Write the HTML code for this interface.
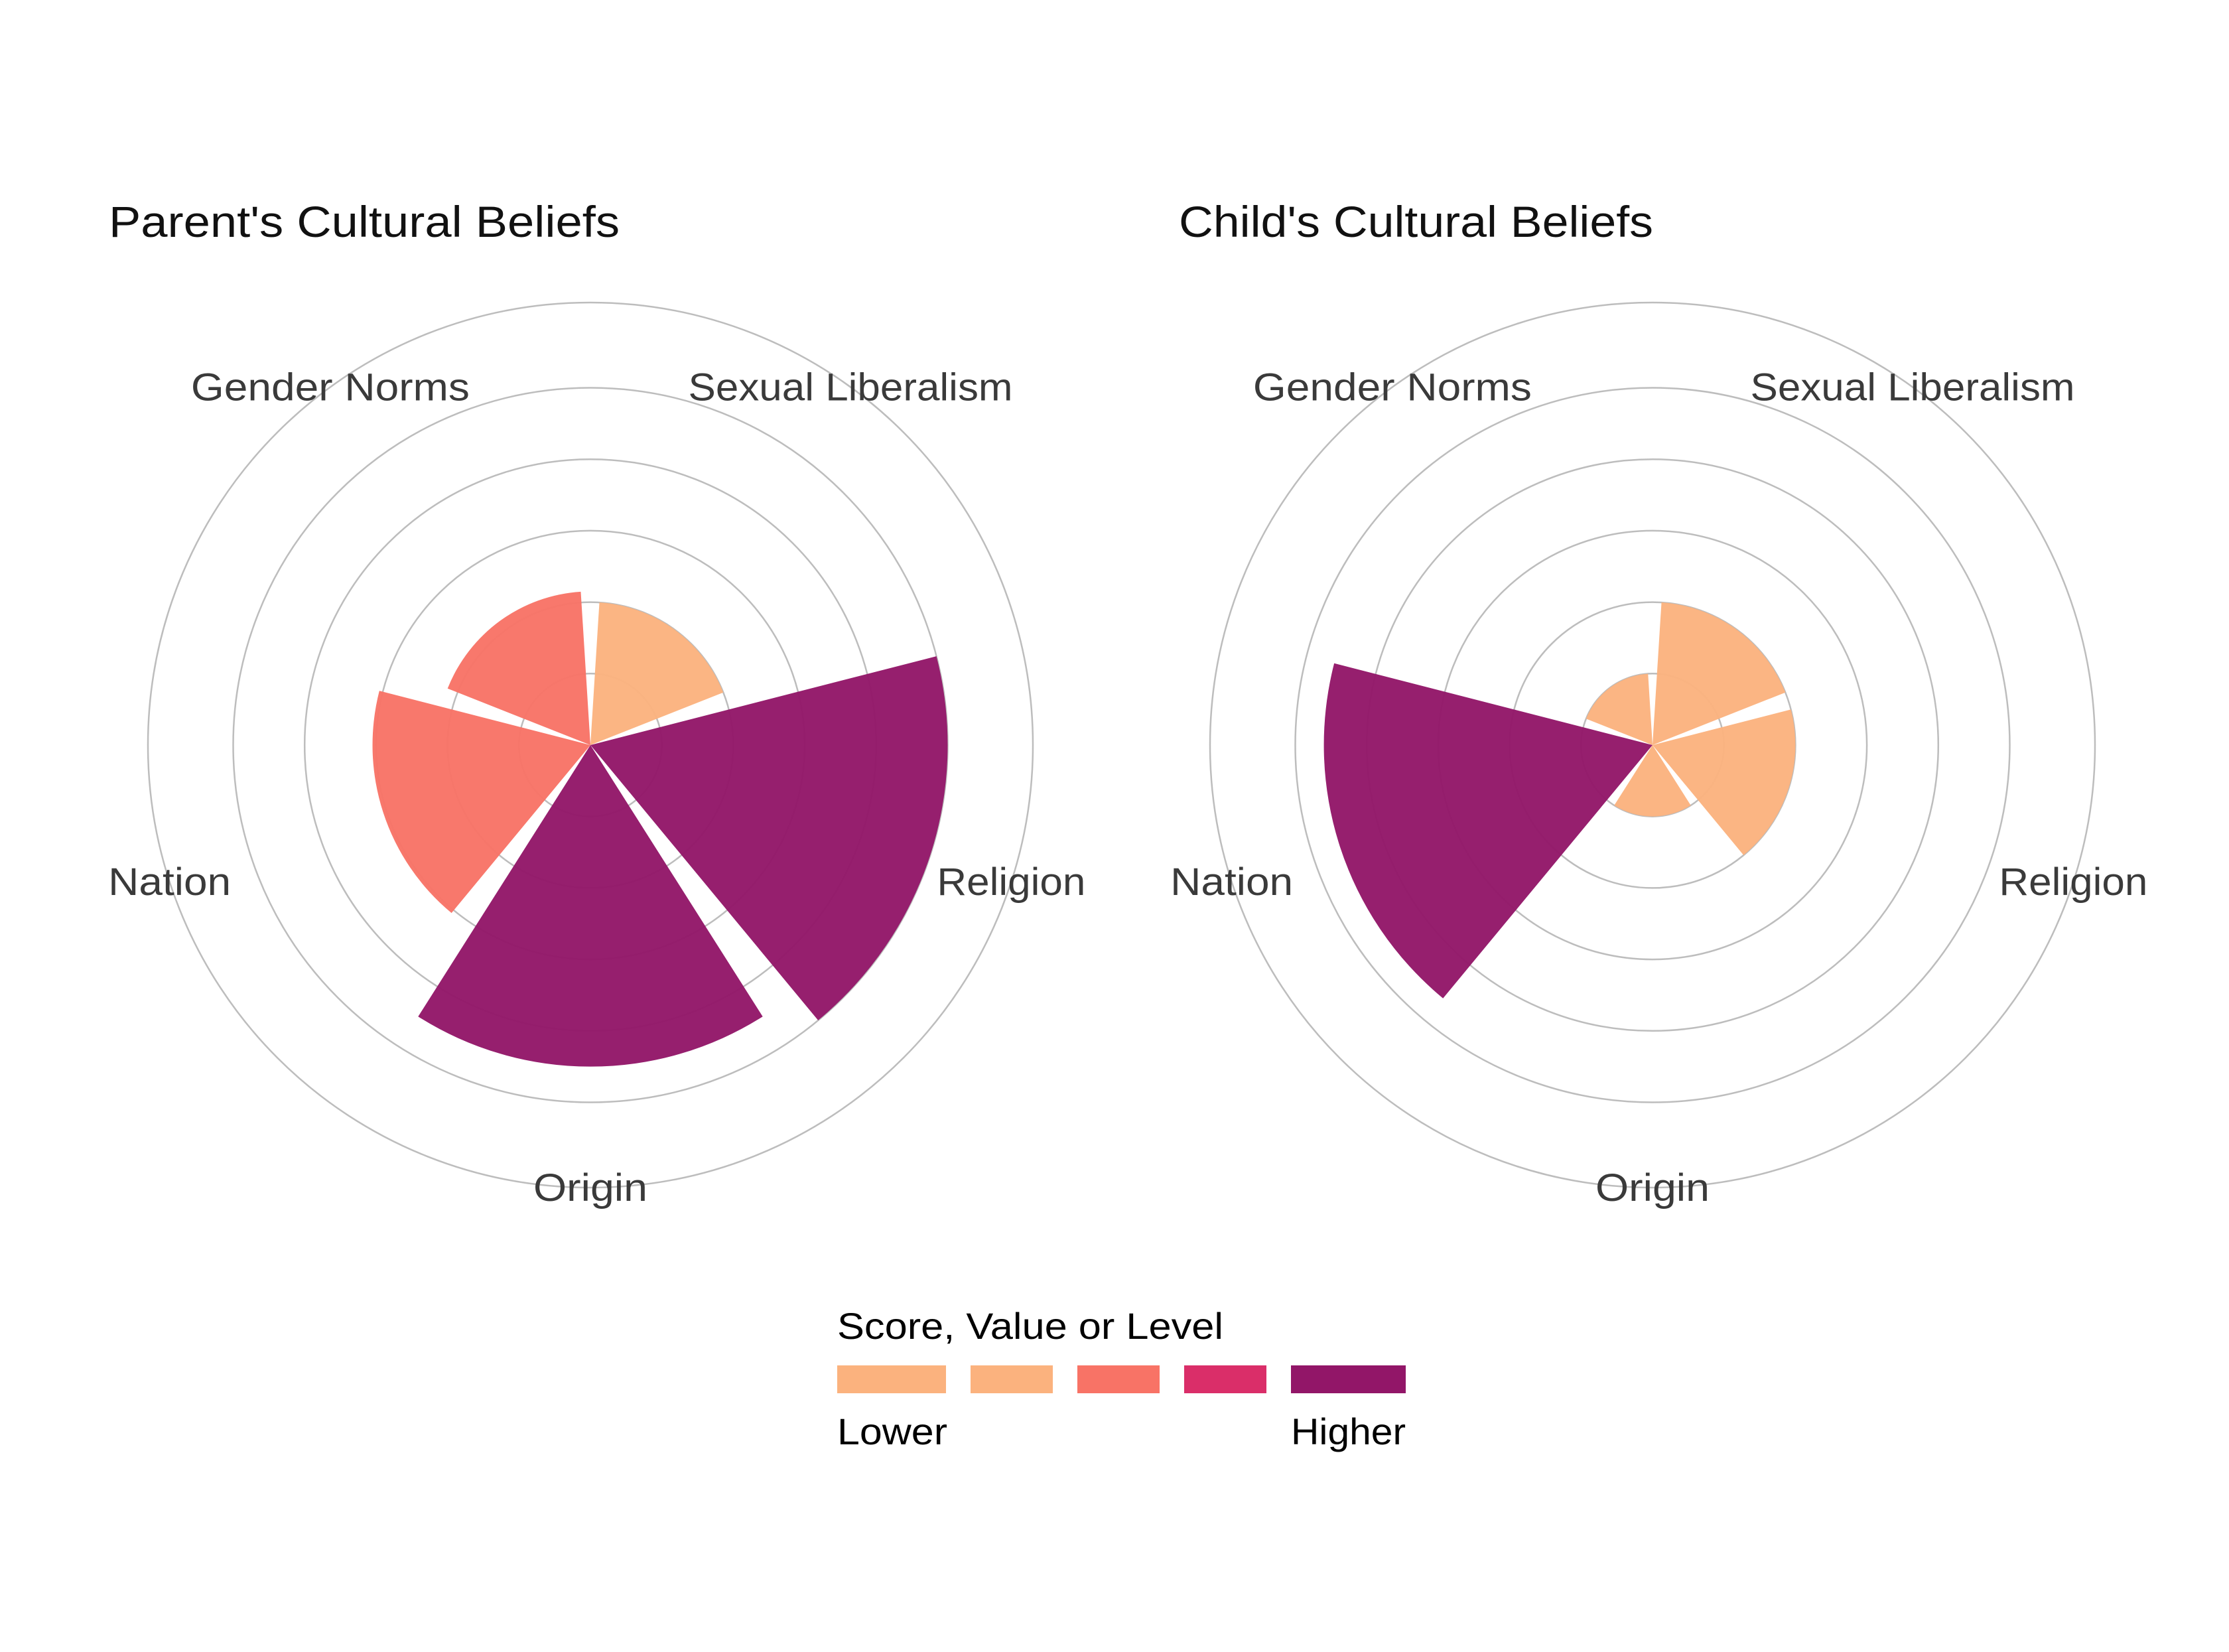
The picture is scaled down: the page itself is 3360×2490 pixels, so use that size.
<!DOCTYPE html>
<html><head><meta charset="utf-8"><style>
html,body{margin:0;padding:0;background:#fff}
svg{display:block}
text{font-family:"Liberation Sans",sans-serif}
</style></head><body>
<svg id="chart" width="3360" height="2490" viewBox="0 0 3360 2490" xmlns="http://www.w3.org/2000/svg">
<rect width="3360" height="2490" fill="#fff"/>
<text x="164" y="357" font-size="66" fill="#111" textLength="770" lengthAdjust="spacingAndGlyphs">Parent's Cultural Beliefs</text>
<text x="1777" y="357" font-size="66" fill="#111" textLength="715" lengthAdjust="spacingAndGlyphs">Child's Cultural Beliefs</text>
<g id="left"></g>
<g id="right"></g>
<g>
<text x="1262" y="2018" font-size="56" fill="#000" textLength="582" lengthAdjust="spacingAndGlyphs">Score, Value or Level</text>
<rect x="1262" y="2058" width="164" height="42" fill="#FBB27E"/>
<rect x="1463" y="2058" width="124" height="42" fill="#FBB27E"/>
<rect x="1624" y="2058" width="124" height="42" fill="#F87366"/>
<rect x="1785" y="2058" width="124" height="42" fill="#DA2E69"/>
<rect x="1946" y="2058" width="173" height="42" fill="#921668"/>
<text x="1262" y="2177" font-size="56" fill="#000" textLength="166" lengthAdjust="spacingAndGlyphs">Lower</text>
<text x="1946" y="2177" font-size="56" fill="#000" textLength="173" lengthAdjust="spacingAndGlyphs">Higher</text>
</g>
</svg>
<script>
const categories = ["Sexual Liberalism","Religion","Origin","Nation","Gender Norms"];
const parentValues = [2.0, 5.0, 4.5, 3.05, 2.15];
const childValues = [2.0, 2.0, 1.0, 4.6, 1.0];
const ringValues = [1,2,3,4,5];
const labelWidths = [489,224,172,185,420];

const NS = "http://www.w3.org/2000/svg";
const UNIT = 107.7, OUTER = 667, CY = 1123;
function rScale(v){ return v*UNIT; }
function aScale(i){ return i*72 + 36; } // degrees from north
function pt(cx, r, deg){ const a = deg*Math.PI/180; return [cx + r*Math.sin(a), CY - r*Math.cos(a)]; }
function colorFor(v){ if (v <= 2.05) return "#FBB27E"; if (v <= 3.5) return "#F87366"; if (v <= 4.3) return "#DA2E69"; return "#921668"; }

function draw(gid, cx, values, prefix){
  const g = document.getElementById(gid);
  const c = document.createElementNS(NS,"circle");
  
  
  c.setAttribute("cx",cx); c.setAttribute("cy",CY); c.setAttribute("r",OUTER);
  c.setAttribute("fill","none"); c.setAttribute("stroke","#bdbdbd"); c.setAttribute("stroke-width","2.5");
  g.appendChild(c);
  ringValues.forEach(v=>{
    const r = document.createElementNS(NS,"circle");
    
    
    r.setAttribute("cx",cx); r.setAttribute("cy",CY); r.setAttribute("r",rScale(v));
    r.setAttribute("fill","none"); r.setAttribute("stroke","#bdbdbd"); r.setAttribute("stroke-width","2.5");
    g.appendChild(r);
  });
  values.forEach((v,i)=>{
    const r = rScale(v), a0 = aScale(i)-32.4, a1 = aScale(i)+32.4;
    const p0 = pt(cx,r,a0), p1 = pt(cx,r,a1);
    const p = document.createElementNS(NS,"path");
    
    
    p.setAttribute("d",`M${cx},${CY} L${p0[0]},${p0[1]} A${r},${r} 0 0 1 ${p1[0]},${p1[1]} Z`);
    p.setAttribute("fill",colorFor(v)); p.setAttribute("fill-opacity","0.96");
    g.appendChild(p);
  });
  categories.forEach((name,i)=>{
    const q = pt(cx,OUTER,aScale(i));
    const t = document.createElementNS(NS,"text");
    
    
    t.setAttribute("x",q[0]); t.setAttribute("y",q[1]+20);
    t.setAttribute("text-anchor","middle"); t.setAttribute("font-size","58"); t.setAttribute("fill","#3a3a3a");
    t.setAttribute("textLength",labelWidths[i]); t.setAttribute("lengthAdjust","spacingAndGlyphs");
    t.textContent = name;
    g.appendChild(t);
  });
}
draw("left", 890, parentValues, "parent");
draw("right", 2491, childValues, "child");
</script>
</body></html>
